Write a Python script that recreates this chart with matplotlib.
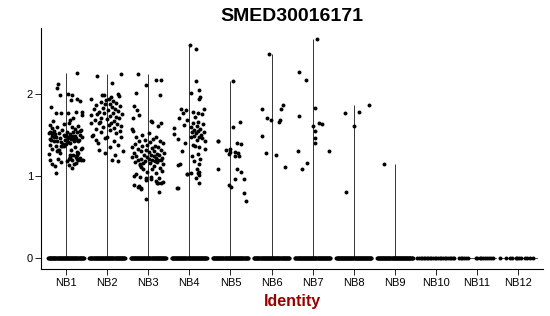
import numpy as np
import matplotlib
matplotlib.use("Agg")
import matplotlib.pyplot as plt

plt.rcParams['font.family'] = ['Liberation Sans', 'DejaVu Sans']

title = "SMED30016171"
categories = ["NB1", "NB2", "NB3", "NB4", "NB5", "NB6", "NB7", "NB8", "NB9", "NB10", "NB11", "NB12"]

# non-zero expression values (value, jitter offset) per identity
nb1_vals = [2.25, 2.12, 2.07, 2.00, 1.98, 1.99, 1.92, 1.93, 1.91, 1.84, 1.77, 1.76, 1.77, 1.78, 1.78, 1.74, 1.70, 1.68, 1.67, 1.64,
            1.62, 1.63, 1.61, 1.60, 1.59, 1.58, 1.57, 1.56, 1.56, 1.55, 1.54, 1.53, 1.52, 1.52, 1.51, 1.50, 1.50, 1.49, 1.49, 1.48,
            1.47, 1.47, 1.46, 1.46, 1.45, 1.45, 1.44, 1.44, 1.43, 1.43,
            1.53, 1.21, 1.47, 1.33, 1.41, 1.26, 1.50, 1.37, 1.29, 1.44, 1.23, 1.39, 1.55, 1.31, 1.46, 1.27, 1.35, 1.42, 1.20, 1.49,
            1.34, 1.28, 1.40, 1.52, 1.25, 1.36, 1.45, 1.30, 1.43, 1.22, 1.38, 1.48, 1.32, 1.24, 1.51, 1.41, 1.28, 1.36, 1.46, 1.33,
            1.19, 1.54, 1.39, 1.26, 1.44, 1.31, 1.37, 1.49, 1.23, 1.42,
            1.22, 1.21, 1.20, 1.19, 1.19, 1.18, 1.17, 1.16, 1.15, 1.14, 1.13, 1.12, 1.10, 1.04, 1.21]
nb1_jit = [0.27, -0.19, -0.21, 0.04, -0.15, 0.15, 0.12, 0.26, 0.34, -0.37, -0.25, -0.13, 0.04, 0.24, 0.39, 0.39, 0.18, 0.11, -0.31, 0.07,
           -0.40, -0.05, 0.30, -0.22, 0.14, -0.35, 0.21, -0.10, 0.36, -0.28, 0.02, 0.27, -0.42, -0.18, 0.10, 0.33, -0.05, -0.33, 0.17, 0.40,
           -0.24, 0.06, -0.14, 0.25, -0.38, 0.13, 0.31, -0.02, -0.21, 0.20, -0.40, 0.08, -0.30, 0.36, -0.12, 0.18, 0.00, -0.25, 0.27, -0.36,
           0.11, -0.07, 0.33, -0.19, 0.05, -0.42, 0.22, -0.29, 0.14, -0.03, 0.39, -0.15, 0.09, -0.33, 0.26, -0.09, 0.17, -0.23, 0.03, 0.35,
           -0.38, 0.12, -0.16, 0.24, -0.27, 0.06, 0.30, -0.05, 0.19, -0.34, 0.29, 0.16, -0.01, 0.10, 0.23, 0.13, -0.11, 0.21, 0.24, 0.30,
           0.10, -0.20, 0.37, -0.40, 0.41, 0.02, -0.12, 0.25, 0.19, -0.33, 0.08, -0.27, 0.15, -0.24, 0.28]

nb2_vals = [2.24, 2.21, 2.13, 2.00, 1.97, 1.98, 1.98, 1.96, 1.94, 1.94, 1.92, 1.91, 1.90, 1.89, 1.88, 1.87, 1.86, 1.85, 1.84, 1.83,
            1.82, 1.81, 1.80, 1.79, 1.78, 1.77, 1.76, 1.75, 1.75, 1.74, 1.73, 1.72, 1.71, 1.70, 1.69, 1.68, 1.67, 1.66, 1.65, 1.64,
            1.64, 1.63, 1.62, 1.61, 1.60, 1.58, 1.57, 1.56, 1.55, 1.53, 1.52, 1.50, 1.49, 1.48, 1.47, 1.46, 1.44, 1.42, 1.40, 1.38,
            1.35, 1.32, 1.30, 1.28, 1.25, 1.20, 1.18]
nb2_jit = [0.33, -0.24, 0.11, 0.26, 0.28, -0.12, -0.07, 0.10, -0.38, 0.05, -0.02, 0.15, -0.16, 0.22, -0.05, 0.08, -0.27, 0.32, 0.12, -0.10,
           0.19, -0.33, 0.02, 0.27, -0.20, 0.14, -0.07, 0.36, -0.24, -0.40, 0.06, 0.21, -0.14, 0.30, 0.00, -0.30, 0.17, -0.18, 0.10, -0.40,
           -0.20, 0.25, 0.04, 0.34, -0.10, 0.18, -0.28, 0.08, 0.31, -0.15, 0.22, -0.34, -0.37, 0.35, 0.00, -0.05, -0.27, 0.16, -0.22, 0.27,
           0.08, -0.19, 0.38, -0.06, 0.20, 0.11, 0.26]

nb3_vals = [2.24, 2.17, 2.17, 2.11, 2.01, 1.98, 1.85, 1.80, 1.74, 1.70, 1.67, 1.66, 1.64, 1.61, 1.57, 1.55, 1.52, 1.50, 1.48, 1.47,
            1.45, 1.44, 1.43, 1.42, 1.41, 1.40, 1.39, 1.38, 1.37, 1.36, 1.35, 1.35, 1.34, 1.33, 1.32, 1.31, 1.30, 1.30, 1.29, 1.28,
            1.28, 1.27, 1.26, 1.26, 1.25, 1.24, 1.24, 1.23, 1.23, 1.22, 1.22, 1.21, 1.21, 1.20, 1.20, 1.19, 1.19, 1.18, 1.18, 1.17,
            1.17, 1.16, 1.16, 1.15, 1.15, 1.13, 1.12, 1.11, 1.10, 1.09, 1.08, 1.06, 1.05, 1.04, 1.02, 1.00, 0.99, 0.99, 0.98, 0.97,
            0.96, 0.95, 0.94, 0.93, 0.92, 0.91, 0.91, 0.89, 0.88, 0.87, 0.86, 0.84, 0.81, 0.72]
nb3_jit = [-0.26, 0.18, 0.32, -0.06, -0.30, 0.29, -0.34, -0.28, -0.22, -0.36, 0.07, 0.10, 0.32, 0.25, -0.40, -0.37, 0.02, -0.15, 0.20, -0.30,
           0.12, -0.08, 0.28, -0.22, 0.05, 0.36, -0.33, -0.02, 0.17, -0.14, 0.24, -0.40, 0.09, -0.26, 0.31, -0.06, 0.15, -0.18, 0.03, 0.39,
           -0.35, 0.21, -0.11, 0.07, 0.27, -0.29, 0.13, -0.03, -0.40, 0.34, 0.19, -0.17, 0.01, 0.25, -0.24, 0.10, 0.30, -0.08, 0.16, -0.33,
           0.22, 0.05, -0.13, 0.36, -0.20, -0.21, 0.14, -0.18, 0.29, 0.10, -0.12, 0.33, -0.02, 0.20, -0.29, -0.35, -0.21, 0.06, -0.06, 0.27,
           0.08, -0.05, 0.18, 0.35, 0.25, 0.21, 0.30, -0.34, -0.22, -0.26, -0.18, -0.18, 0.27, -0.06]

nb4_vals = [2.59, 2.54, 2.15, 2.04, 2.01, 1.96, 1.93, 1.82, 1.81, 1.80, 1.78, 1.77, 1.77, 1.75, 1.72, 1.70, 1.68, 1.66, 1.64, 1.63,
            1.62, 1.61, 1.60, 1.58, 1.57, 1.56, 1.55, 1.54, 1.53, 1.52, 1.51, 1.50, 1.49, 1.48, 1.47, 1.46, 1.45, 1.44, 1.43, 1.40,
            1.38, 1.36, 1.35, 1.33, 1.30, 1.27, 1.24, 1.21, 1.18, 1.14, 1.13, 1.14, 1.08, 1.05, 1.04, 1.03, 1.04, 1.02, 1.01, 0.98,
            0.91, 0.86, 0.85]
nb4_jit = [0.02, 0.16, 0.16, 0.24, 0.05, 0.27, 0.23, 0.35, -0.20, -0.08, 0.08, -0.16, 0.20, 0.30, 0.14, -0.24, -0.05, 0.22, 0.10, 0.33,
           -0.12, 0.18, 0.03, -0.37, 0.26, 0.12, 0.21, 0.35, 0.07, 0.16, -0.38, 0.28, 0.11, 0.24, 0.04, 0.31, -0.28, 0.18, 0.38, -0.10,
           0.09, 0.15, 0.24, 0.39, -0.18, 0.20, 0.06, 0.27, 0.12, -0.23, -0.27, 0.24, 0.19, 0.24, 0.04, -0.05, 0.20, -0.06, 0.24, 0.17,
           0.24, -0.28, -0.29]

nb5_vals = [2.15, 1.66, 1.59, 1.43, 1.42, 1.40, 1.39, 1.31, 1.33, 1.29, 1.27, 1.29, 1.28, 1.24, 1.24, 1.08, 1.09, 1.05, 0.96, 0.96,
            0.89, 0.87, 0.79, 0.70]
nb5_jit = [0.07, 0.24, 0.07, -0.31, -0.29, 0.17, 0.26, -0.10, 0.00, -0.02, -0.04, 0.11, 0.19, 0.10, 0.22, -0.31, 0.15, 0.25, 0.10, 0.34,
           -0.04, 0.02, 0.33, 0.37]

nb6_vals = [2.48, 1.86, 1.81, 1.82, 1.68, 1.66, 1.70, 1.68, 1.49, 1.28, 1.25, 1.11]
nb6_jit = [-0.05, 0.28, 0.23, -0.23, 0.20, 0.18, -0.10, -0.02, -0.24, -0.14, 0.10, 0.32]

nb7_vals = [2.66, 2.27, 2.17, 1.83, 1.73, 1.65, 1.63, 1.61, 1.55, 1.46, 1.40, 1.30, 1.30, 1.16, 1.09]
nb7_jit = [0.11, -0.33, -0.16, 0.06, -0.32, 0.16, 0.24, 0.00, 0.06, 0.06, 0.06, -0.36, 0.39, -0.13, -0.25]

nb8_vals = [1.86, 1.78, 1.76, 1.61, 0.81]
nb8_jit = [0.37, 0.14, -0.22, 0.00, -0.18]

nb9_vals = [1.14]
nb9_jit = [-0.26]

nonzero_vals = [nb1_vals, nb2_vals, nb3_vals, nb4_vals, nb5_vals, nb6_vals, nb7_vals, nb8_vals, nb9_vals, [], [], []]
nonzero_jit = [nb1_jit, nb2_jit, nb3_jit, nb4_jit, nb5_jit, nb6_jit, nb7_jit, nb8_jit, nb9_jit, [], [], []]

# zero-valued cells: dense groups are drawn as a packed row, sparse groups from their read offsets
zero_counts = [70, 70, 70, 70, 70, 70, 70, 70, 70, 24, 16, 12]
nb10_zero_jit = [-0.45, -0.41, -0.37, -0.33, -0.30, -0.26, -0.22, -0.19, -0.15, -0.11, -0.07, -0.03,
                 0.01, 0.05, 0.09, 0.13, 0.17, 0.21, 0.25, 0.29, 0.33, 0.37, 0.41, 0.44]
nb11_zero_jit = [-0.44, -0.40, -0.36, -0.31, -0.26, -0.22, -0.03, 0.01, 0.06, 0.10, 0.15, 0.20, 0.25, 0.30, 0.34, 0.38]
nb12_zero_jit = [-0.45, -0.29, -0.21, -0.15, -0.06, -0.02, 0.03, 0.07, 0.16, 0.21, 0.28, 0.37]
sparse_zero_jit = {9: nb10_zero_jit, 10: nb11_zero_jit, 11: nb12_zero_jit}

y_ticks = [0, 1, 2]

fig = plt.figure(figsize=(5.5, 3.16), dpi=100)
ax = fig.add_axes([0.0751, 0.1478, 0.9119, 0.7626])

pos = np.arange(1, len(categories) + 1)
for i, p in enumerate(pos):
    vals = nonzero_vals[i]
    # collapsed violin outline
    top = max(vals) if vals else 0.0
    if top > 0:
        ax.plot([p, p], [0, top], color='black', lw=0.55, zorder=1, solid_capstyle='butt')
    ax.plot([p - 0.45, p + 0.45], [0, 0], color='black', lw=0.5, zorder=1)
    if i in sparse_zero_jit:
        zj = np.array(sparse_zero_jit[i])
    else:
        zj = np.linspace(-0.43, 0.43, zero_counts[i])
    ax.scatter(p + zj, np.zeros(len(zj)), s=8, color='black', linewidths=0, zorder=2)
    if vals:
        ax.scatter(p + np.array(nonzero_jit[i]), np.array(vals), s=8, color='black', linewidths=0, zorder=2)

ax.set_xlim(0.4, len(categories) + 0.6)
ax.set_ylim(-0.134, 2.795)
ax.set_xticks(pos)
ax.set_xticklabels(categories, fontsize=8, color='black')
ax.set_yticks(y_ticks)
ax.set_yticklabels([str(t) for t in y_ticks], fontsize=8, color='black')
ax.tick_params(axis='both', length=4, width=0.6, color='black', pad=2)
for s in ['top', 'right']:
    ax.spines[s].set_visible(False)
for s in ['left', 'bottom']:
    ax.spines[s].set_linewidth(0.8)
    ax.spines[s].set_color('black')

fig.text(292 / 550, 1 - 20.7 / 316, title, ha='center', va='baseline', fontsize=14, fontweight='bold')
fig.text(292 / 550, (316 - 305.7) / 316, "Identity", ha='center', va='baseline', fontsize=11.5,
         fontweight='bold', color='#990000')

fig.savefig("out.png", dpi=100)
